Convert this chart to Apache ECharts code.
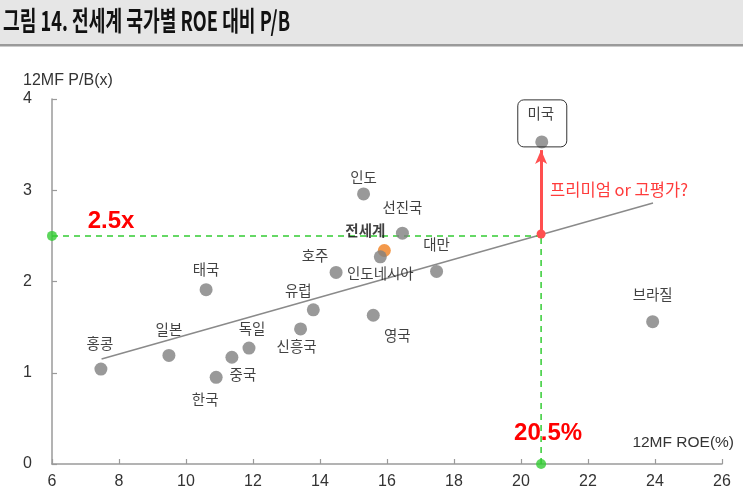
<!DOCTYPE html>
<html><head><meta charset="utf-8">
<script src="https://cdn.jsdelivr.net/npm/echarts@6/dist/echarts.min.js"></script>
<style>html,body{margin:0;padding:0;background:#fff}#c{width:743px;height:504px}</style>
</head><body><div id="c"></div>
<script>
// ---- data ----
const countries = ['홍콩','일본','태국','한국','중국','독일','신흥국','유럽','호주','인도','영국','인도네시아','선진국','대만','미국','브라질'];
const roe = [7.46, 9.49, 10.6, 10.9, 11.37, 11.88, 13.42, 13.8, 14.48, 15.3, 15.59, 15.8, 16.46, 17.48, 20.62, 23.93];
const pb  = [1.04, 1.19, 1.91, 0.95, 1.17, 1.27, 1.48, 1.69, 2.10, 2.96, 1.63, 2.27, 2.53, 2.11, 3.53, 1.56];
const worldName = ['전세계'];
const worldRoe = [15.92];
const worldPb = [2.34];
const trendRoe = [7.48, 23.94];
const trendPb = [1.15, 2.86];
const refRoe = [20.6];
const refPb = [2.5];
const usArrowEnd = [3.44];
const xTickLabels = [6, 8, 10, 12, 14, 16, 18, 20, 22, 24, 26];
const yTickLabels = [0, 1, 2, 3, 4];
const titleText = '그림 14. 전세계 국가별 ROE 대비 P/B';
const yName = '12MF P/B(x)';
const xName = '12MF ROE(%)';
const refPbText = '2.5x';
const refRoeText = '20.5%';
const premiumText = '프리미엄 or 고평가?';

// ---- label placement (pixel offsets from each point) ----
const labelOffsets = {
  '홍콩':[-1,-26], '일본':[0,-26], '태국':[0,-20], '한국':[-11,22], '중국':[11,17],
  '독일':[3,-20], '신흥국':[-4,18], '유럽':[-15,-19], '호주':[-21,-17], '인도':[0,-16],
  '영국':[24,20], '인도네시아':[0,17], '선진국':[0,-26], '대만':[0,-27], '미국':[-1,-28],
  '브라질':[0,-27], '전세계':[-19,-20]
};

const KR = '"Noto Sans CJK KR", "Noto Sans", sans-serif';
const LAT = '"Liberation Sans", Arial, sans-serif';

const chart = echarts.init(document.getElementById('c'), null, {renderer:'canvas'});

const pts = countries.map((n,i)=>({
  value:[roe[i], pb[i]], name:n,
  label:{offset: labelOffsets[n]}
}));
const worldPts = worldName.map((n,i)=>({
  value:[worldRoe[i], worldPb[i]], name:n,
  label:{offset: labelOffsets[n], fontWeight:'bold'}
}));

const green = '#33cc33';
const red = '#ff4f4f';

chart.setOption({
  animation:false,
  backgroundColor:'#fff',
  grid:{left:52, right:21, top:99, bottom:40},
  xAxis:{
    type:'value', min:xTickLabels[0], max:xTickLabels[xTickLabels.length-1], interval:2,
    axisLine:{lineStyle:{color:'#9a9a9a', width:1.5}},
    axisTick:{show:true, inside:true, length:5, lineStyle:{color:'#9a9a9a', width:1.2}},
    splitLine:{show:false},
    axisLabel:{color:'#333', fontSize:16, fontFamily:LAT, margin:10}
  },
  yAxis:{
    type:'value', min:yTickLabels[0], max:yTickLabels[yTickLabels.length-1], interval:1,
    axisLine:{show:true, lineStyle:{color:'#9a9a9a', width:1.5}},
    axisTick:{show:true, inside:true, length:5, lineStyle:{color:'#9a9a9a', width:1.2}},
    splitLine:{show:false},
    axisLabel:{color:'#333', fontSize:16, fontFamily:LAT, margin:20}
  },
  series:[
    {
      type:'line', data:trendRoe.map((x,i)=>[x,trendPb[i]]), showSymbol:false, symbol:'none',
      lineStyle:{color:'#8a8a8a', width:1.5}, z:2, silent:true,
      markLine:{
        silent:true, symbol:['circle','arrow'], symbolSize:[9,14],
        lineStyle:{color:red, width:3, type:'solid'}, label:{show:false},
        data:[[{coord:[refRoe[0], 2.52]}, {coord:[refRoe[0], usArrowEnd[0]]}]], z:6
      }
    },
    {
      type:'line', data:[[xTickLabels[0], refPb[0]], [refRoe[0], refPb[0]]], symbol:'none',
      lineStyle:{color:green, width:1.5, type:[6,5]}, z:3, silent:true
    },
    {
      type:'line', data:[[refRoe[0], yTickLabels[0]], [refRoe[0], refPb[0]]], symbol:'none',
      lineStyle:{color:green, width:1.5, type:[6,5]}, z:3, silent:true
    },
    {
      type:'scatter', data:[[xTickLabels[0], refPb[0]], [refRoe[0], yTickLabels[0]]],
      symbolSize:10, itemStyle:{color:green}, z:7, silent:true
    },
    {
      type:'scatter', data:worldPts, symbolSize:13, itemStyle:{color:'#f07f1e'}, z:4,
      label:{show:true, position:'inside', formatter:'{b}', color:'#111', fontSize:14.5, fontFamily:KR,
        align:'center', verticalAlign:'middle'}
    },
    {
      type:'scatter', data:pts, symbolSize:13, itemStyle:{color:'#808080'}, z:5,
      label:{show:true, position:'inside', formatter:'{b}', color:'#111', fontSize:14.5, fontFamily:KR,
        align:'center', verticalAlign:'middle'}
    }
  ]
});

// ---- annotations anchored to the scales ----
const P = v => chart.convertToPixel({gridIndex:0}, v);
const pRefY = P([xTickLabels[0], refPb[0]]);
const pRefX = P([refRoe[0], yTickLabels[0]]);
const usIdx = countries.indexOf('미국');
const pUS = P([roe[usIdx], pb[usIdx]]);
const pArrowMid = P([refRoe[0], (2.52 + usArrowEnd[0])/2]);

// measure title for condensed look
const cv = document.createElement('canvas').getContext('2d');
cv.font = 'bold 27px ' + KR;
const tw = cv.measureText(titleText).width;
const sx = 287 / tw;

chart.setOption({
  graphic:[
    {type:'rect', shape:{x:0, y:0, width:743, height:44}, style:{fill:'#e6e6e6'}, z:0, silent:true},
    {type:'rect', shape:{x:0, y:44, width:743, height:2.5}, style:{fill:'#9a9a9a'}, z:1, silent:true},
    {type:'text', x:3, y:21, scaleX:sx, style:{text:titleText, font:'bold 27px ' + KR, fill:'#111', verticalAlign:'middle', align:'left'}, z:2},
    {type:'text', x:23, y:81, style:{text:yName, font:'16px ' + LAT, fill:'#333', verticalAlign:'middle', align:'left'}},
    {type:'text', x:734, y:443, style:{text:xName, font:'15.5px ' + LAT, fill:'#333', verticalAlign:'middle', align:'right'}},
    {type:'text', x:pRefY[0] + 59, y:pRefY[1] - 15, style:{text:refPbText, font:'bold 24px ' + LAT, fill:'#ff0000', verticalAlign:'middle', align:'center'}, z:10},
    {type:'text', x:pRefX[0] + 7, y:pRefX[1] - 31, style:{text:refRoeText, font:'bold 24px ' + LAT, fill:'#ff0000', verticalAlign:'middle', align:'center'}, z:10},
    {type:'text', x:pRefX[0] + 9, y:pArrowMid[1] - 2, style:{text:premiumText, font:'16.5px ' + KR, fill:'#ff3b3b', verticalAlign:'middle', align:'left'}, z:10},
    {type:'rect', shape:{x:pUS[0] - 24, y:pUS[1] - 42, width:49, height:47, r:6}, style:{fill:'none', stroke:'#333', lineWidth:1}, z:10, silent:true}
  ]
});
</script>
</body></html>
